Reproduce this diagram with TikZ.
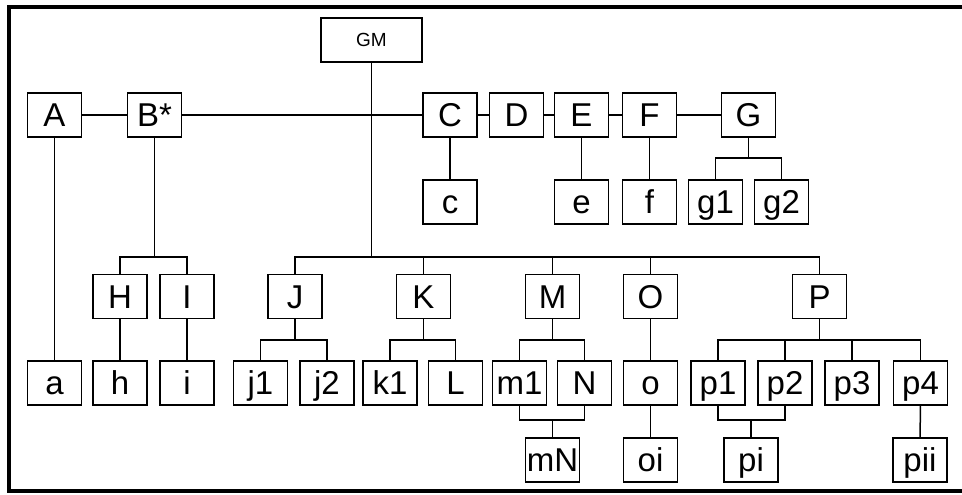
\documentclass[tikz,border=0pt]{standalone}
\usepackage{fontspec}
\setmainfont{Liberation Sans}
\usepackage{tikz}

\begin{document}
\begin{tikzpicture}[x=1pt, y=-1pt,
        orgbox/.style={draw, line width=1.8pt, minimum width=54pt, minimum height=44pt,
            inner sep=0pt, text height=23.5pt, text depth=0pt,
            font=\fontsize{33}{36}\selectfont},
        topbox/.style={orgbox, minimum width=101pt, text height=13.5pt,
            font=\fontsize{19}{22}\selectfont},
        every path/.style={line width=1.5pt}]
            \useasboundingbox (0, 0) rectangle (962, 495);
            \draw[line width=3.5pt] (975, 7) -- (9, 7) -- (9, 491) -- (975, 491);

            \node[topbox] (GM) at (371.5, 40) {GM};

            \node[orgbox] (A) at (54.5, 115) {A};
            \node[orgbox] (B) at (154.5, 115) {B*};
            \node[orgbox] (C) at (450, 115) {C};
            \node[orgbox] (D) at (516.5, 115) {D};
            \node[orgbox] (E) at (581.5, 115) {E};
            \node[orgbox] (F) at (649.5, 115) {F};
            \node[orgbox] (G) at (748.5, 115) {G};

            \node[orgbox] (c) at (450, 202) {c};
            \node[orgbox] (e) at (581.5, 202) {e};
            \node[orgbox] (f) at (649.5, 202) {f};
            \node[orgbox] (g1) at (715.5, 202) {g1};
            \node[orgbox] (g2) at (781.5, 202) {g2};

            \node[orgbox] (H) at (120, 296.5) {H};
            \node[orgbox] (I) at (187, 296.5) {I};
            \node[orgbox] (J) at (295, 296.5) {J};
            \node[orgbox] (K) at (423.5, 296.5) {K};
            \node[orgbox] (M) at (552.5, 296.5) {M};
            \node[orgbox] (O) at (650.5, 296.5) {O};
            \node[orgbox] (P) at (819.5, 296.5) {P};

            \node[orgbox] (a) at (54.5, 383) {a};
            \node[orgbox] (h) at (120, 383) {h};
            \node[orgbox] (i) at (187, 383) {i};
            \node[orgbox] (j1) at (260.5, 383) {j1};
            \node[orgbox] (j2) at (327, 383) {j2};
            \node[orgbox] (k1) at (390, 383) {k1};
            \node[orgbox] (L) at (455.5, 383) {L};
            \node[orgbox] (m1) at (519.5, 383) {m1};
            \node[orgbox] (N) at (584.5, 383) {N};
            \node[orgbox] (o) at (650.5, 383) {o};
            \node[orgbox] (p1) at (718, 383) {p1};
            \node[orgbox] (p2) at (785, 383) {p2};
            \node[orgbox] (p3) at (852, 383) {p3};
            \node[orgbox] (p4) at (920.5, 383) {p4};

            \node[orgbox] (mN) at (552.5, 460) {mN};
            \node[orgbox] (oi) at (650.5, 460) {oi};
            \node[orgbox] (pi) at (751, 460) {pi};
            \node[orgbox] (pii) at (920, 460) {pii};

            \coordinate (mainbus) at (371.5, 257);
            \coordinate (bbus) at (154.5, 257);
            \coordinate (gbus) at (748.5, 158);
            \coordinate (jbus) at (295, 340);
            \coordinate (kbus) at (423.5, 340);
            \coordinate (mbus) at (552.5, 340);
            \coordinate (pbus) at (819.5, 340);
            \coordinate (mnbus) at (552.5, 420);
            \coordinate (pibus) at (751, 420);

            \draw (A) -- (B);
            \draw (B) -- (C);
            \draw (C) -- (D);
            \draw (D) -- (E);
            \draw (E) -- (F);
            \draw (F) -- (G);

            \draw (A) -- (a);
            \draw (C) -- (c);
            \draw (E) -- (e);
            \draw (F) -- (f);
            \draw (G) -- (gbus);
            \draw (g1) |- (gbus) -| (g2);

            \draw (B) -- (bbus);
            \draw (H) |- (bbus) -| (I);
            \draw (H) -- (h);
            \draw (I) -- (i);

            \draw (GM) -- (mainbus);
            \draw (J) |- (mainbus) -| (P);
            \foreach \n in {K, M, O}
                \draw (\n) -- (\n |- mainbus);

            \draw (J) -- (jbus);
            \draw (j1) |- (jbus) -| (j2);
            \draw (K) -- (kbus);
            \draw (k1) |- (kbus) -| (L);
            \draw (M) -- (mbus);
            \draw (m1) |- (mbus) -| (N);
            \draw (m1) |- (mnbus) -| (N);
            \draw (mnbus) -- (mN);

            \draw (O) -- (o);
            \draw (o) -- (oi);

            \draw (P) -- (pbus);
            \draw (p1) |- (pbus) -| (p4);
            \foreach \n in {p2, p3}
                \draw (\n) -- (\n |- pbus);
            \draw (p1) |- (pibus) -| (p2);
            \draw (pibus) -- (pi);
            \draw (p4) -- (pii);
        \end{tikzpicture}
\end{document}
